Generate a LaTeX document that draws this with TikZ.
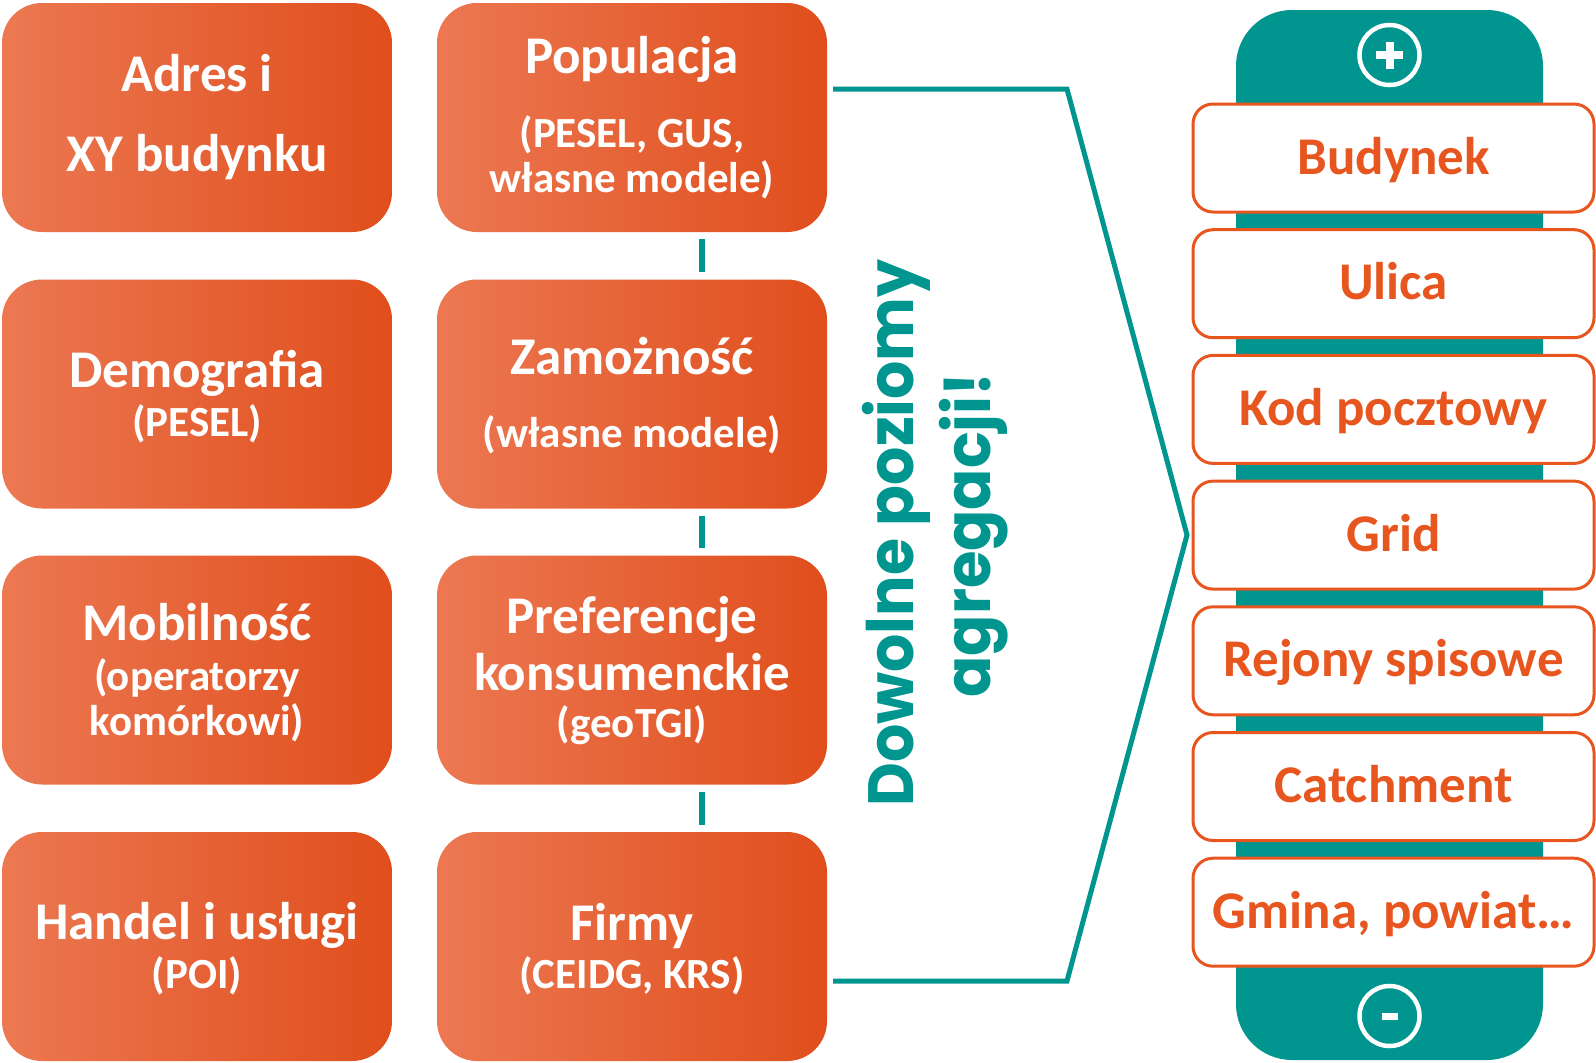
\documentclass[tikz,border=0pt]{standalone}
\usepackage{fontspec}
\usepackage{graphicx}
\newfontfamily\boxfont{Carlito}
\newfontfamily\tealfont{Poppins}
\definecolor{orL}{RGB}{236,120,82}
\definecolor{orR}{RGB}{224,78,28}
\definecolor{orT}{RGB}{232,86,32}
\definecolor{tealc}{RGB}{0,150,143}
\tikzset{
  obox/.style={shape=rectangle, rounded corners=40pt, left color=orL, right color=orR, draw=none,
    minimum width=390pt, minimum height=229pt, inner sep=0pt},
  ttl/.style={anchor=base, text=white, inner sep=0pt, font=\boxfont\bfseries\fontsize{53}{60}\selectfont},
  sub/.style={anchor=base, text=white, inner sep=0pt, font=\boxfont\bfseries\fontsize{43}{50}\selectfont},
  lvl/.style={shape=rectangle, rounded corners=20pt, draw=orT, line width=3pt, fill=white,
    minimum width=401pt, minimum height=108pt, inner sep=0pt},
  lvltxt/.style={anchor=base, text=orT, inner sep=0pt, font=\boxfont\bfseries\fontsize{53}{60}\selectfont},
  vtxt/.style={anchor=base, rotate=90, text=tealc, inner sep=0pt, font=\tealfont\bfseries\fontsize{64}{70}\selectfont},
  dashline/.style={draw=tealc, line width=6pt},
  tline/.style={draw=tealc, line width=5pt, line join=miter},
  ring/.style={draw=white, line width=4.5pt},
}
\begin{document}
\begin{tikzpicture}[x=1pt,y=-1pt]
\useasboundingbox (0,0) rectangle (1596,1063);

% left grid of orange boxes
\node[obox] (b1) at (197,117.5) {};
\node[obox] (b2) at (632,117.5) {};
\node[obox] (b3) at (197,394) {};
\node[obox] (b4) at (632,394) {};
\node[obox] (b5) at (197,670) {};
\node[obox] (b6) at (632,670) {};
\node[obox] (b7) at (197,946.5) {};
\node[obox] (b8) at (632,946.5) {};

\node[ttl] (t1a) at (197,91) {Adres i};
\node[ttl] (t1b) at (197,171) {XY budynku};

\node[ttl] (t2a) at (632,73) {Populacja};
\node[sub] (t2b) at (632,147) {(PESEL, GUS,};
\node[sub] (t2c) at (632,192) {własne modele)};

\node[ttl] (t3a) at (197,387) {Demografia};
\node[sub] (t3b) at (197,436) {(PESEL)};

\node[ttl] (t4a) at (632,374) {Zamożność};
\node[sub] (t4b) at (632,447) {(własne modele)};

\node[ttl] (t5a) at (197,640) {Mobilność};
\node[sub] (t5b) at (197,690) {(operatorzy};
\node[sub] (t5c) at (197,735) {komórkowi)};

\node[ttl] (t6a) at (632,633) {Preferencje};
\node[ttl] (t6b) at (632,690) {konsumenckie};
\node[sub] (t6c) at (632,737) {(geoTGI)};

\node[ttl] (t7a) at (197,939) {Handel i usługi};
\node[sub] (t7b) at (197,988) {(POI)};

\node[ttl] (t8a) at (632,940) {Firmy};
\node[sub] (t8b) at (632,988) {(CEIDG, KRS)};

% teal dashes between column 2 boxes
\draw[dashline] ([xshift=70pt,yshift=-7pt]b2.south) -- ([xshift=70pt,yshift=7pt]b4.north);
\draw[dashline] ([xshift=70pt,yshift=-7pt]b4.south) -- ([xshift=70pt,yshift=7pt]b6.north);
\draw[dashline] ([xshift=70pt,yshift=-7pt]b6.south) -- ([xshift=70pt,yshift=7pt]b8.north);

% bracket
\coordinate (p1) at (833,89);
\coordinate (p2) at (1067,89);
\coordinate (p3) at (1187,535);
\coordinate (p4) at (1067,981);
\coordinate (p5) at (833,981);
\draw[tline] (p1) -- (p2) -- (p3) -- (p4) -- (p5);

% vertical text
\node[vtxt] (v1) at (913,533) {\scalebox{0.94}[1]{Dowolne poziomy}};
\node[vtxt] (v2) at (990,535) {\scalebox{0.95}[1]{agregacji!}};

% right panel
\node[shape=rectangle, rounded corners=56pt, fill=tealc, minimum width=307pt, minimum height=1050pt, inner sep=0pt] (panel) at (1389.5,535) {};

\node[circle, ring, minimum size=60pt, inner sep=0pt] (plus) at (1389.5,55) {};
\fill[white] ([xshift=-13.5pt,yshift=-4pt]plus.center) rectangle ([xshift=13.5pt,yshift=4pt]plus.center);
\fill[white] ([xshift=-4pt,yshift=-13.5pt]plus.center) rectangle ([xshift=4pt,yshift=13.5pt]plus.center);

\node[circle, ring, minimum size=60pt, inner sep=0pt] (minus) at (1389.5,1016) {};
\fill[white] ([xshift=-8pt,yshift=-3.5pt]minus.center) rectangle ([xshift=8pt,yshift=3.5pt]minus.center);

\node[lvl] (l1) at (1393.5,158) {};
\node[lvl] (l2) at (1393.5,283.7) {};
\node[lvl] (l3) at (1393.5,409.4) {};
\node[lvl] (l4) at (1393.5,535.1) {};
\node[lvl] (l5) at (1393.5,660.8) {};
\node[lvl] (l6) at (1393.5,786.5) {};
\node[lvl] (l7) at (1393.5,912.2) {};

\node[lvltxt] (lt1) at (1393.5,174) {Budynek};
\node[lvltxt] (lt2) at (1393.5,299.7) {Ulica};
\node[lvltxt] (lt3) at (1393.5,425.4) {Kod pocztowy};
\node[lvltxt] (lt4) at (1393.5,551.1) {Grid};
\node[lvltxt] (lt5) at (1393.5,676.8) {Rejony spisowe};
\node[lvltxt] (lt6) at (1393.5,802.5) {Catchment};
\node[lvltxt] (lt7) at (1393.5,928.2) {Gmina, powiat…};
\end{tikzpicture}
\end{document}
